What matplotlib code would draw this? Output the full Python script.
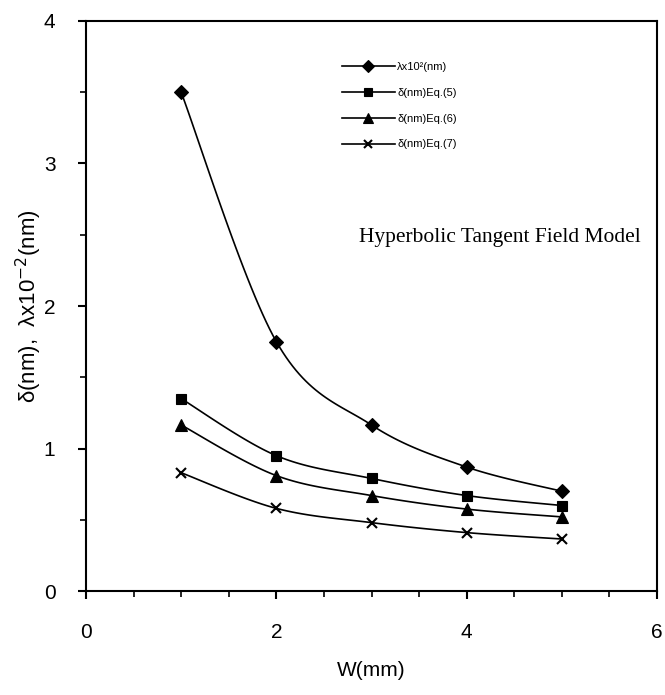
import matplotlib
matplotlib.use("Agg")
import matplotlib.pyplot as plt
import numpy as np
from matplotlib.ticker import MultipleLocator

plt.rcParams['font.family'] = ['Liberation Sans', 'DejaVu Sans']

w = [1, 2, 3, 4, 5]
lam = [3.50, 1.75, 1.165, 0.87, 0.70]
d_eq5 = [1.35, 0.95, 0.79, 0.67, 0.60]
d_eq6 = [1.165, 0.81, 0.67, 0.575, 0.52]
d_eq7 = [0.83, 0.58, 0.48, 0.41, 0.365]

labels = ['λx10²(nm)', 'δ(nm)Eq.(5)', 'δ(nm)Eq.(6)', 'δ(nm)Eq.(7)']
markers = ['D', 's', '^', 'x']
sizes = [7, 7.5, 8, 6.5]


def smooth(x, y, n=30):
    # Catmull-Rom curve through the points, like the spreadsheet "smoothed line"
    x = np.asarray(x, float)
    y = np.asarray(y, float)
    px = np.concatenate([[x[0]], x, [x[-1]]])
    py = np.concatenate([[y[0]], y, [y[-1]]])
    xs, ys = [], []
    for i in range(1, len(px) - 2):
        t = np.linspace(0, 1, n)
        for arr, out in ((px, xs), (py, ys)):
            p0, p1, p2, p3 = arr[i - 1], arr[i], arr[i + 1], arr[i + 2]
            out.extend(0.5 * ((2 * p1) + (-p0 + p2) * t +
                              (2 * p0 - 5 * p1 + 4 * p2 - p3) * t ** 2 +
                              (-p0 + 3 * p1 - 3 * p2 + p3) * t ** 3))
    return xs, ys


fig = plt.figure(figsize=(6.65, 6.95), dpi=100)
ax = fig.add_axes([0.1293, 0.1496, 0.8587, 0.8202])

for data, lab, mk, ms in zip([lam, d_eq5, d_eq6, d_eq7], labels, markers, sizes):
    sx, sy = smooth(w, data)
    ax.plot(sx, sy, color='black', lw=1.2)
    ax.plot(w, data, linestyle='none', marker=mk, ms=ms, color='black',
            markeredgewidth=1.5 if mk == 'x' else 0.8)
    ax.plot([], [], color='black', lw=1.2, marker=mk, ms=ms * 0.85,
            markeredgewidth=1.5 if mk == 'x' else 0.8, label=lab)

ax.set_xlim(0, 6)
ax.set_ylim(0, 4)
ax.xaxis.set_major_locator(MultipleLocator(2))
ax.xaxis.set_minor_locator(MultipleLocator(0.5))
ax.yaxis.set_major_locator(MultipleLocator(1))
ax.yaxis.set_minor_locator(MultipleLocator(0.5))
ax.tick_params(which='major', length=6, width=1.5, labelsize=15, direction='out')
ax.tick_params(axis='x', which='major', pad=17)
ax.tick_params(axis='y', which='major', pad=16)
ax.tick_params(which='minor', length=4, width=1.2, direction='out')
for s in ax.spines.values():
    s.set_linewidth(1.5)

ax.set_xlabel('W(mm)', fontsize=15, labelpad=14)
ax.set_ylabel('δ(nm),  λx10$^{-2}$(nm)', fontsize=16)
ax.yaxis.set_label_coords(-0.074, 0.5)

ax.text(4.35, 2.48, 'Hyperbolic Tangent Field Model', family='Liberation Serif',
        fontsize=15.5, ha='center', va='center')

ax.legend(loc='upper left', bbox_to_anchor=(0.43, 0.946), frameon=False,
          fontsize=8, handlelength=4.8, labelspacing=1.43, handletextpad=0.2)

fig.savefig('out.png', dpi=100)
